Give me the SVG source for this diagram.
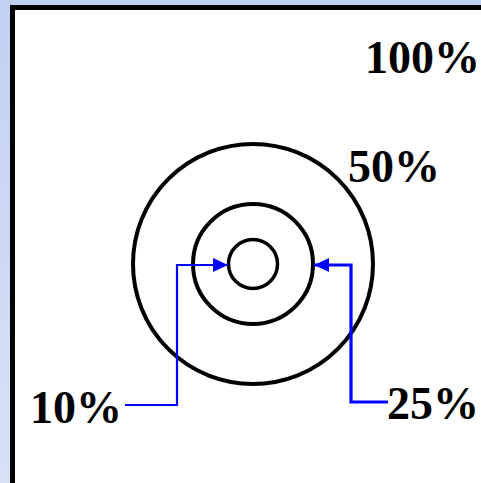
<svg xmlns="http://www.w3.org/2000/svg" width="481" height="483" viewBox="0 0 481 483">
  <defs>
    <linearGradient id="bg" x1="0" y1="0" x2="0" y2="1">
      <stop offset="0" stop-color="#c2d0f2"/>
      <stop offset="1" stop-color="#d8e1f6"/>
    </linearGradient>
    <marker id="arr" viewBox="0 0 15 14" refX="15" refY="7" markerWidth="15" markerHeight="14" markerUnits="userSpaceOnUse" orient="auto">
      <path d="M0,0 L15,7 L0,14 Z" fill="#0000ff"/>
    </marker>
    <style>
      .ring { fill: none; stroke: #000; }
      .lbl { font-family: "Liberation Serif", "Times New Roman", serif; font-weight: bold; font-size: 46px; fill: #000; }
      .conn { fill: none; stroke: #0000ff; }
    </style>
  </defs>
  <rect x="0" y="0" width="481" height="483" fill="url(#bg)"/>
  <rect id="frame" x="12.5" y="7.5" width="480" height="490" fill="#fff" stroke="#000" stroke-width="5"/>
  <g id="ring-50">
    <circle class="ring" cx="253" cy="264" r="120" stroke-width="4"/>
  </g>
  <g id="ring-25">
    <circle class="ring" cx="253" cy="264" r="60" stroke-width="4"/>
  </g>
  <g id="ring-10">
    <circle class="ring" cx="253" cy="264" r="24.5" stroke-width="3.5"/>
  </g>
  <g id="label-100"><text class="lbl" x="365" y="73">100%</text></g>
  <g id="label-50"><text class="lbl" x="348" y="182">50%</text></g>
  <g id="label-10"><text class="lbl" x="30" y="423">10%</text></g>
  <g id="label-25"><text class="lbl" x="387" y="419">25%</text></g>
  <g id="connectors">
    <path class="conn" d="M125,405 H177 V265 H228" stroke-width="2.2" marker-end="url(#arr)"/>
    <path class="conn" d="M388,402 H351 V265 H314" stroke-width="3.2" marker-end="url(#arr)"/>
  </g>
</svg>
